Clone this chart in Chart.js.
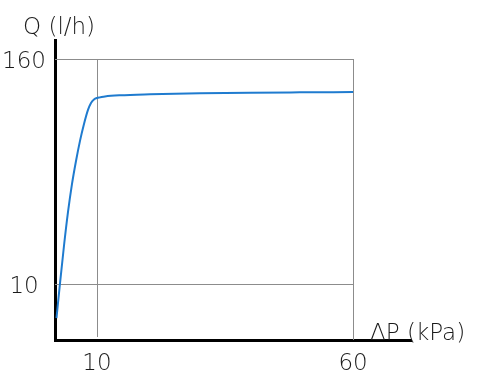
<!DOCTYPE html>
<html>
<head>
<meta charset="utf-8">
<script src="https://cdn.jsdelivr.net/npm/chart.js@4/dist/chart.umd.min.js"></script>
<style>
html,body{margin:0;padding:0;background:#fff;}
canvas{display:block;}
</style>
</head>
<body>
<canvas id="c" width="500" height="378"></canvas>
<script>
// Data (ΔP in kPa, Q in l/h, schematic scale)
const deltaP = [2.09, 2.77, 3.55, 4.34, 5.12, 5.90, 6.68, 7.46, 8.24, 8.83, 9.41, 10, 10.59, 11.56, 14.49, 20.35, 30.1, 39.9, 49.6, 60];
const flow   = [6.53, 10, 15.9, 24.2, 34.2, 45.4, 58.2, 71.7, 85.3, 93.0, 97.1, 98.9, 99.6, 100.7, 102.2, 103.5, 104.8, 105.6, 106.0, 106.3];
const xTicks = [10, 60];
const yTicks = [10, 160];
const xTitle = "ΔP (kPa)";
const yTitle = "Q (l/h)";

const FONT = "'DejaVu Sans', sans-serif";
const WEIGHT = 200;
const TXT = '#1a1a1a';

const gridPlugin = {
  id: 'grid',
  beforeDatasetsDraw(chart) {
    const {ctx, scales: {x, y}, chartArea} = chart;
    ctx.save();
    ctx.strokeStyle = '#8c8c8c';
    ctx.lineWidth = 1;
    const xl = chartArea.left, xr = x.getPixelForValue(xTicks[1]);
    const yTop = y.getPixelForValue(yTicks[1]);
    ctx.beginPath();
    yTicks.forEach(v => { const py = Math.round(y.getPixelForValue(v)) + 0.5; ctx.moveTo(xl, py); ctx.lineTo(xr, py); });
    const p1 = Math.round(x.getPixelForValue(xTicks[0])) + 0.5;
    ctx.moveTo(p1, yTop); ctx.lineTo(p1, chartArea.bottom - 3);
    const p2 = Math.round(xr) + 0.5;
    ctx.moveTo(p2, yTop); ctx.lineTo(p2, chartArea.bottom);
    ctx.stroke();
    ctx.restore();
  },
  afterDraw(chart) {
    const {ctx} = chart;
    ctx.save();
    ctx.fillStyle = TXT;
    ctx.font = WEIGHT + " 23px " + FONT;
    ctx.textBaseline = 'alphabetic';
    ctx.textAlign = 'left';
    ctx.fillText(yTitle, 23, 34);
    ctx.fillText(xTitle, 370, 340);
    ctx.restore();
  }
};

new Chart(document.getElementById('c'), {
  type: 'line',
  data: {
    datasets: [{
      data: deltaP.map((v, i) => ({x: v, y: flow[i]})),
      borderColor: '#1f7bcf',
      borderWidth: 2,
      pointRadius: 0,
      fill: false,
      cubicInterpolationMode: 'monotone'
    }]
  },
  options: {
    responsive: false,
    animation: false,
    layout: {padding: {top: 40, right: 89, left: 0, bottom: 0}},
    plugins: {legend: {display: false}, tooltip: {enabled: false}},
    scales: {
      x: {
        type: 'linear', min: 1.8, max: 71.3,
        afterBuildTicks: s => { s.ticks = xTicks.map(v => ({value: v})); },
        afterFit: s => { s.height = 38; },
        grid: {display: false, drawTicks: false},
        border: {display: true, color: '#000', width: 3},
        ticks: {color: TXT, font: {family: FONT, size: 23, weight: WEIGHT}, padding: 10, maxRotation: 0, autoSkip: false}
      },
      y: {
        type: 'logarithmic', min: 4.98, max: 202.3,
        afterBuildTicks: s => { s.ticks = yTicks.map(v => ({value: v})); },
        afterFit: s => { s.width = 55; },
        grid: {display: false, drawTicks: false},
        border: {display: true, color: '#000', width: 3},
        ticks: {color: TXT, font: {family: FONT, size: 23, weight: WEIGHT}, padding: 9, crossAlign: 'center', autoSkip: false,
          labelOffset: 3, callback: v => String(v)}
      }
    }
  },
  plugins: [gridPlugin]
});
</script>
</body>
</html>
